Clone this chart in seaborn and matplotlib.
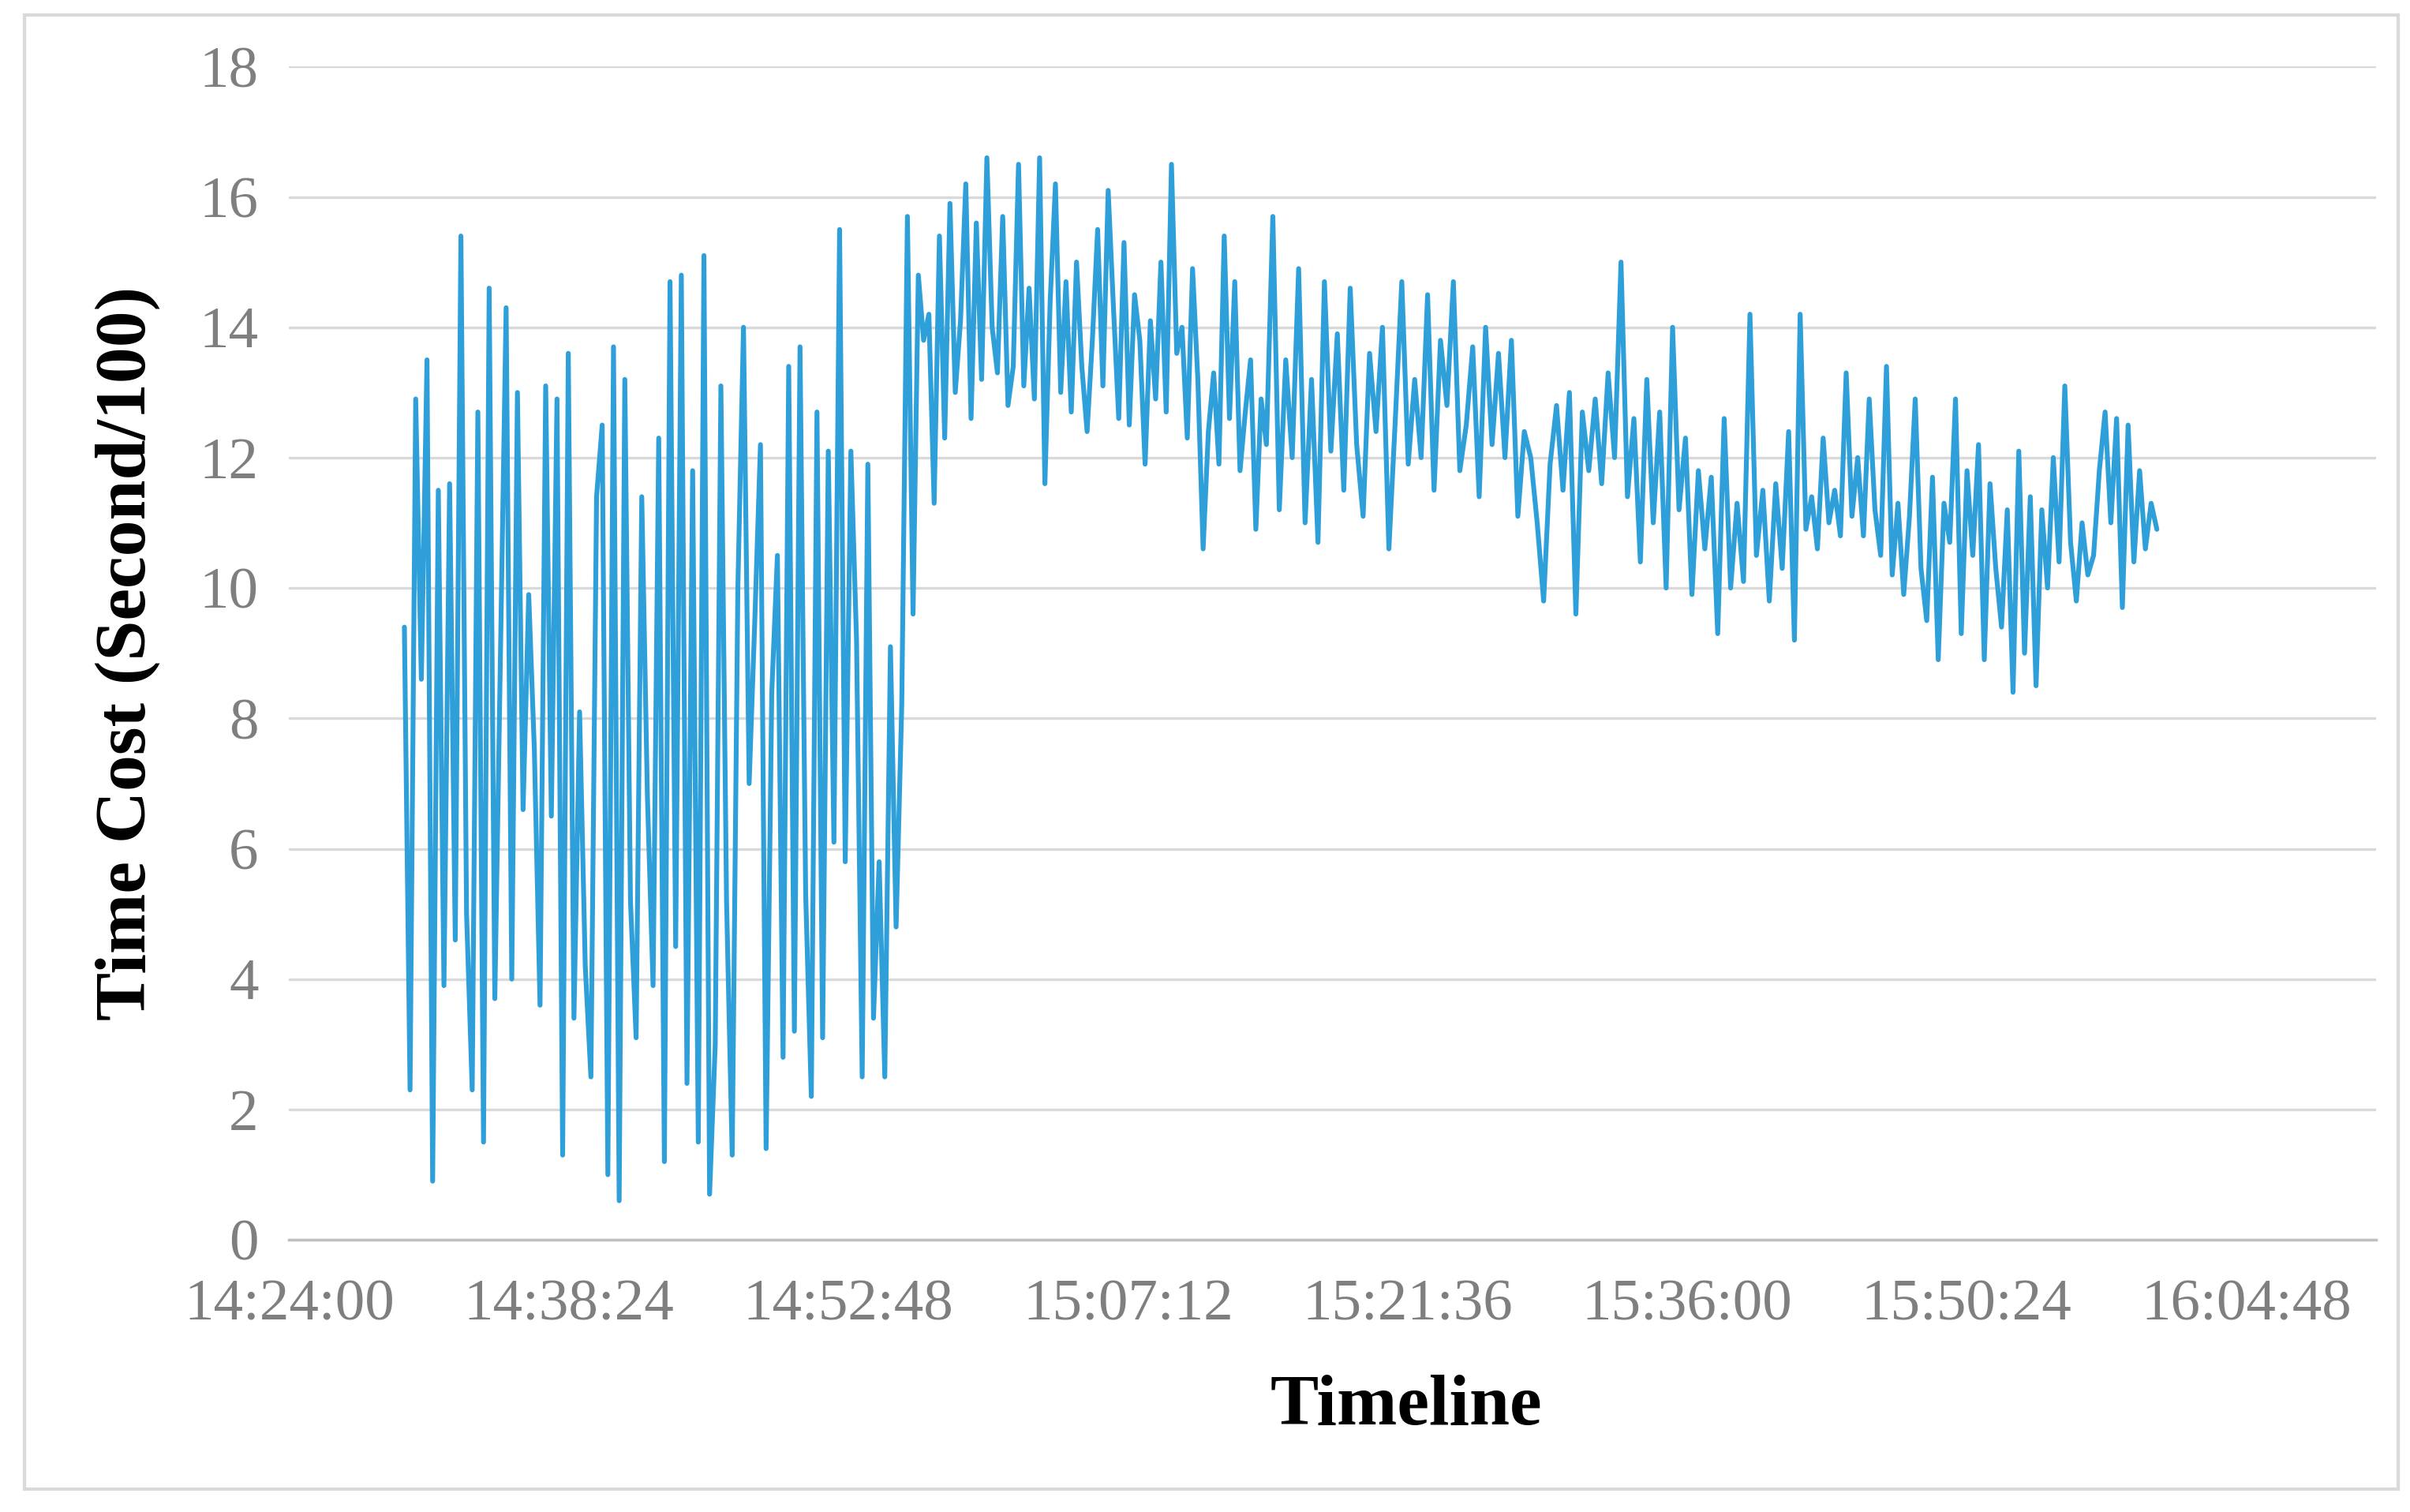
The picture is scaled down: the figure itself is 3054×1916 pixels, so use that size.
import numpy as np
import pandas as pd
import matplotlib.pyplot as plt
import matplotlib.ticker as mticker
import seaborn as sns

# values, four stretches of the run
seg1 = [9.4, 2.3, 12.9, 8.6, 13.5, 0.9, 11.5, 3.9, 11.6, 4.6, 15.4, 5.0, 2.3, 12.7, 1.5, 14.6, 3.7, 9.0,
        14.3, 4.0, 13.0, 6.6, 9.9, 7.5, 3.6, 13.1, 6.5, 12.9, 1.3, 13.6, 3.4, 8.1, 4.2, 2.5, 11.4, 12.5,
        1.0, 13.7, 0.6, 13.2, 5.2, 3.1, 11.4, 6.8, 3.9, 12.3, 1.2, 14.7, 4.5, 14.8, 2.4, 11.8, 1.5, 15.1,
        0.7, 3.0, 13.1, 5.2, 1.3, 10.0, 14.0, 7.0, 9.5, 12.2, 1.4, 8.4, 10.5, 2.8, 13.4, 3.2, 13.7, 5.3,
        2.2, 12.7, 3.1, 12.1, 6.1, 15.5, 5.8, 12.1, 9.2, 2.5, 11.9, 3.4, 5.8, 2.5, 9.1, 4.8, 8.2, 15.7]
seg2 = [9.6, 14.8, 13.8, 14.2, 11.3, 15.4, 12.3, 15.9, 13.0, 14.1, 16.2, 12.6, 15.6, 13.2, 16.6, 14.0,
        13.3, 15.7, 12.8, 13.4, 16.5, 13.1, 14.6, 12.9, 16.6, 11.6, 14.4, 16.2, 13.0, 14.7, 12.7, 15.0,
        13.4, 12.4, 13.8, 15.5, 13.1, 16.1, 14.3, 12.6, 15.3, 12.5, 14.5, 13.8, 11.9, 14.1, 12.9, 15.0,
        12.7, 16.5, 13.6, 14.0, 12.3, 14.9, 13.2, 10.6, 12.4, 13.3, 11.9, 15.4, 12.6, 14.7, 11.8, 12.7,
        13.5, 10.9, 12.9]
seg3 = [12.2, 15.7, 11.2, 13.5, 12.0, 14.9, 11.0, 13.2, 10.7, 14.7, 12.1, 13.9, 11.5, 14.6, 12.2, 11.1,
        13.6, 12.4, 14.0, 10.6, 12.6, 14.7, 11.9, 13.2, 12.0, 14.5, 11.5, 13.8, 12.8, 14.7, 11.8, 12.5,
        13.7, 11.4, 14.0, 12.2, 13.6, 12.0, 13.8, 11.1, 12.4, 12.0, 11.0, 9.8, 11.9, 12.8, 11.5, 13.0,
        9.6, 12.7, 11.8, 12.9, 11.6, 13.3, 12.0, 15.0, 11.4, 12.6, 10.4, 13.2, 11.0, 12.7, 10.0, 14.0,
        11.2, 12.3, 9.9, 11.8, 10.6, 11.7, 9.3, 12.6, 10.0, 11.3, 10.1, 14.2, 10.5, 11.5, 9.8, 11.6, 10.3]
seg4 = [12.4, 9.2, 14.2, 10.9, 11.4, 10.6, 12.3, 11.0, 11.5, 10.8, 13.3, 11.1, 12.0, 10.8, 12.9, 11.2,
        10.5, 13.4, 10.2, 11.3, 9.9, 11.1, 12.9, 10.3, 9.5, 11.7, 8.9, 11.3, 10.7, 12.9, 9.3, 11.8, 10.5,
        12.2, 8.9, 11.6, 10.3, 9.4, 11.2, 8.4, 12.1, 9.0, 11.4, 8.5, 11.2, 10.0, 12.0, 10.4, 13.1, 10.7,
        9.8, 11.0, 10.2, 10.5, 11.8, 12.7, 11.0, 12.6, 9.7, 12.5, 10.4, 11.8, 10.6, 11.3, 10.9]

# stretch boundaries as clock times (seconds since midnight)
def hms(h, m, s):
    return h * 3600 + m * 60 + s

bounds = [hms(14, 29, 56), hms(14, 56, 8), hms(15, 14, 20), hms(15, 41, 14), hms(16, 0, 12)]
segs = [seg1, seg2, seg3, seg4]

t, v = [], []
for i, sg in enumerate(segs):
    tt = np.linspace(bounds[i], bounds[i + 1], len(sg), endpoint=(i == 3))
    t.extend(tt)
    v.extend(sg)
df = pd.DataFrame({'t': t, 'v': v})

sns.set_theme(style='white')
plt.rcParams['font.family'] = ['Liberation Serif', 'DejaVu Serif']

fig = plt.figure(figsize=(15.27, 9.58), dpi=200)
ax = fig.add_axes([0.12, 0.18, 0.866, 0.776])
sns.lineplot(data=df, x='t', y='v', ax=ax, color='#2E9FD8', linewidth=2.2)

t0 = hms(14, 24, 0)
ticks = [t0 + 864 * k for k in range(8)]
ax.set_xticks(ticks)
ax.xaxis.set_major_formatter(mticker.FuncFormatter(
    lambda x, p: '%d:%02d:%02d' % (x // 3600, (x % 3600) // 60, x % 60)))
ax.set_xlim(t0, t0 + 6450)
ax.set_ylim(0, 18)
ax.set_yticks(range(0, 19, 2))
ax.grid(axis='y', color='#d9d9d9', linewidth=1.2)
for s in ['top', 'right', 'left']:
    ax.spines[s].set_visible(False)
ax.spines['bottom'].set_color('#bfbfbf')
ax.tick_params(axis='both', labelsize=27, labelcolor='#7f7f7f', length=0)
ax.tick_params(axis='x', pad=18)
ax.tick_params(axis='y', pad=14)
ax.set_xlabel('Timeline', fontsize=33, fontweight='bold', color='black', labelpad=14)
ax.xaxis.set_label_coords(0.535, -0.115)
ax.set_ylabel('Time Cost (Second/100)', fontsize=33, fontweight='bold', color='black', labelpad=18)

fig.patches.append(plt.Rectangle((0.01, 0.015), 0.985, 0.975, transform=fig.transFigure,
                                 fill=False, edgecolor='#d9d9d9', linewidth=1.5))
fig.savefig('out.png', dpi=200, facecolor='white')
